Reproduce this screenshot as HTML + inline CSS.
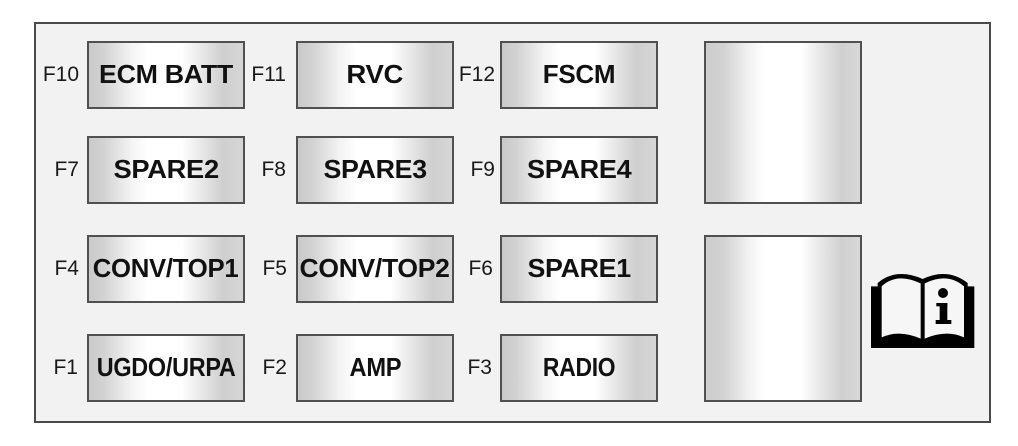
<!DOCTYPE html>
<html>
<head>
<meta charset="utf-8">
<style>
  html, body { margin:0; padding:0; background:#ffffff; }
  body { width:1018px; height:446px; position:relative; overflow:hidden; font-family:"Liberation Sans", Arial, sans-serif; }
  .outer { position:absolute; left:34px; top:22px; width:957px; height:401px; box-sizing:border-box; border:2px solid #4a4a4a; background:#f2f2f2; }
  .fuse { position:absolute; box-sizing:border-box; border:2px solid #505050;
    background:linear-gradient(to right, #c9c9c9 0%, #d3d3d3 10%, #f3f3f3 27%, #ffffff 38%, #ffffff 60%, #e8e8e8 73%, #cfcfcf 87%, #d6d6d6 100%);
    width:158px; height:68px; text-align:center; font-weight:bold; font-size:26px; line-height:62px; color:#111; letter-spacing:-0.3px; white-space:nowrap; }
  .fuse span { display:inline-block; transform-origin:50% 50%; }
  .big { position:absolute; box-sizing:border-box; border:2px solid #505050;
    background:linear-gradient(to right, #cdcdcd 0%, #d3d3d3 12%, #f2f2f2 28%, #ffffff 38%, #ffffff 62%, #e6e6e6 75%, #d0d0d0 88%, #d8d8d8 100%); width:158px; }
  .lbl { position:absolute; width:60px; text-align:right; font-size:21px; color:#1a1a1a; height:68px; line-height:68px; }
</style>
</head>
<body>
<div class="outer"></div>

<!-- Row 1 -->
<div class="lbl" style="left:19px;top:41px;">F10</div>
<div class="fuse" style="left:87px;top:41px;"><span style="transform:scaleX(1.03)">ECM BATT</span></div>
<div class="lbl" style="left:226px;top:41px;">F11</div>
<div class="fuse" style="left:296px;top:41px;"><span style="transform:scaleX(1.06)">RVC</span></div>
<div class="lbl" style="left:435px;top:41px;">F12</div>
<div class="fuse" style="left:500px;top:41px;"><span>FSCM</span></div>

<!-- Row 2 -->
<div class="lbl" style="left:19px;top:136px;">F7</div>
<div class="fuse" style="left:87px;top:136px;"><span style="transform:scaleX(1.05)">SPARE2</span></div>
<div class="lbl" style="left:226px;top:136px;">F8</div>
<div class="fuse" style="left:296px;top:136px;"><span style="transform:scaleX(1.03)">SPARE3</span></div>
<div class="lbl" style="left:435px;top:136px;">F9</div>
<div class="fuse" style="left:500px;top:136px;"><span style="transform:scaleX(1.04)">SPARE4</span></div>

<!-- Row 3 -->
<div class="lbl" style="left:19px;top:235px;">F4</div>
<div class="fuse" style="left:87px;top:235px;"><span style="transform:scaleX(0.99)">CONV/TOP1</span></div>
<div class="lbl" style="left:227px;top:235px;">F5</div>
<div class="fuse" style="left:296px;top:235px;"><span style="transform:scaleX(1.02)">CONV/TOP2</span></div>
<div class="lbl" style="left:433px;top:235px;">F6</div>
<div class="fuse" style="left:500px;top:235px;"><span style="transform:scaleX(1.03)">SPARE1</span></div>

<!-- Row 4 -->
<div class="lbl" style="left:18px;top:334px;">F1</div>
<div class="fuse" style="left:87px;top:334px;"><span style="transform:scaleX(0.9)">UGDO/URPA</span></div>
<div class="lbl" style="left:227px;top:334px;">F2</div>
<div class="fuse" style="left:296px;top:334px;"><span style="transform:scaleX(0.91)">AMP</span></div>
<div class="lbl" style="left:432px;top:334px;">F3</div>
<div class="fuse" style="left:500px;top:334px;"><span style="transform:scaleX(0.88)">RADIO</span></div>

<!-- Big relays -->
<div class="big" style="left:704px;top:41px;height:163px;"></div>
<div class="big" style="left:704px;top:235px;height:167px;"></div>

<!-- Book info icon -->
<svg style="position:absolute;left:866px;top:268px;" width="114" height="86" viewBox="0 0 342 258">
  <path d="M15,55 L35,55 L35,45 Q90,-2 170,33 Q245,-2 305,45 L305,55 L325,55 L325,240 L15,240 Z" fill="#000"/>
  <path d="M47,55 Q92,12 164,46 L164,212 Q100,184 47,208 Z" fill="#f6f6f6"/>
  <path d="M176,46 Q245,12 294,55 L294,208 Q240,184 176,212 Z" fill="#f6f6f6"/>
  <circle cx="231" cy="75" r="15" fill="#000"/>
  <rect x="221" y="105" width="23" height="58" fill="#000"/>
  <rect x="211" y="105" width="33" height="10" fill="#000"/>
  <rect x="209" y="156" width="47" height="12" fill="#000"/>
</svg>
</body>
</html>
